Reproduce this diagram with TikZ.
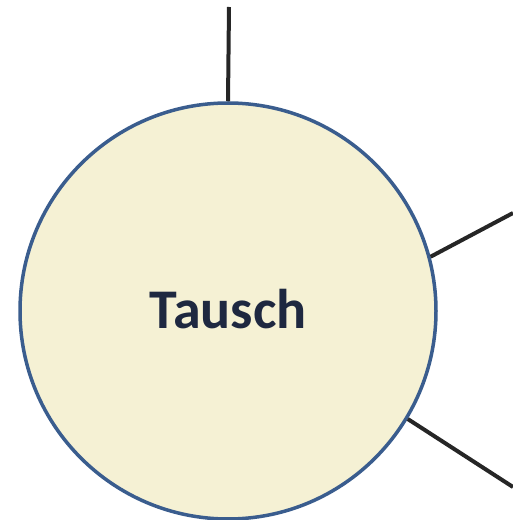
\documentclass[tikz,border=0pt]{standalone}
\usepackage{fontspec}
\setsansfont{Carlito}
\usepackage{xcolor}
\definecolor{cream}{HTML}{F5F1D4}
\definecolor{ringblue}{HTML}{3A5D8E}
\definecolor{inkdark}{HTML}{1E2840}
\usepackage{tikz}
\usetikzlibrary{positioning}

\begin{document}
\begin{tikzpicture}[
  x=1pt, y=1pt,
  topic/.style={circle, draw=ringblue, fill=cream, line width=3.5pt, minimum size=416pt, inner sep=0pt, font=\sffamily\bfseries\fontsize{56}{64}\selectfont, text=inkdark},
  link/.style={line width=4pt, black!85},
]
\useasboundingbox (0,0) rectangle (513,520);

\node[topic] (tausch) at (228,209) {\raisebox{4pt}{Tausch}};

% freie Enden
\coordinate (up) at (229,513);
\coordinate (right) at (513,307);
\coordinate (down) at (513,33);

\draw[link] (tausch.north) -- (up);
\draw[link] (tausch.15) -- (right);
\draw[link] (tausch.-31) -- (down);

\end{tikzpicture}
\end{document}
